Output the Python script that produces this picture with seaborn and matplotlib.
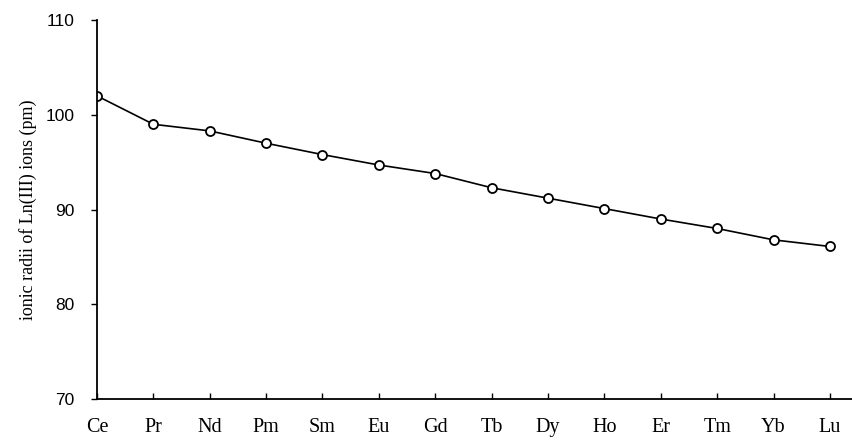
import matplotlib
matplotlib.use("Agg")
import matplotlib.pyplot as plt
import seaborn as sns
import pandas as pd

# Lanthanide ions and their Ln(III) ionic radii (pm)
elements = ['Ce', 'Pr', 'Nd', 'Pm', 'Sm', 'Eu', 'Gd', 'Tb', 'Dy', 'Ho', 'Er', 'Tm', 'Yb', 'Lu']
radii = [102.0, 99.0, 98.3, 97.0, 95.8, 94.7, 93.8, 92.3, 91.2, 90.1, 89.0, 88.0, 86.8, 86.1]
y_ticks = [70, 80, 90, 100, 110]

df = pd.DataFrame({'element': elements, 'radius': radii})
df['pos'] = range(len(elements))

sns.set_style("ticks")
plt.rcParams['font.family'] = ['Liberation Serif', 'DejaVu Serif']
plt.rcParams['text.color'] = 'black'
plt.rcParams['axes.labelcolor'] = 'black'
plt.rcParams['xtick.color'] = 'black'
plt.rcParams['ytick.color'] = 'black'

fig = plt.figure(figsize=(8.53, 4.46), dpi=100)
ax = fig.add_axes([0.1137, 0.1054, 0.8863, 0.8496])

sns.lineplot(data=df, x='pos', y='radius', ax=ax, color='black', linewidth=1.2,
             marker='o', markersize=6.5, markerfacecolor='white',
             markeredgecolor='black', markeredgewidth=1.3, sort=False)

ax.set_xlim(0, 13.41)
ax.set_ylim(70, 110)
ax.set_xticks(df['pos'])
ax.set_xticklabels(elements, fontsize=14.5)
ax.set_yticks(y_ticks)
ax.set_yticklabels([str(t) for t in y_ticks], fontsize=12.5, family=['Liberation Sans', 'DejaVu Sans'])
ax.tick_params(axis='x', direction='in', length=4, width=1, pad=14)
ax.tick_params(axis='y', direction='out', length=4, width=1, pad=12)

ax.set_xlabel('')
ax.set_ylabel('ionic radii of Ln(III) ions (pm)', fontsize=13, labelpad=6)

sns.despine(ax=ax)
for side in ['left', 'bottom']:
    ax.spines[side].set_linewidth(1.3)
    ax.spines[side].set_color('black')

fig.savefig('out.png', dpi=100)
